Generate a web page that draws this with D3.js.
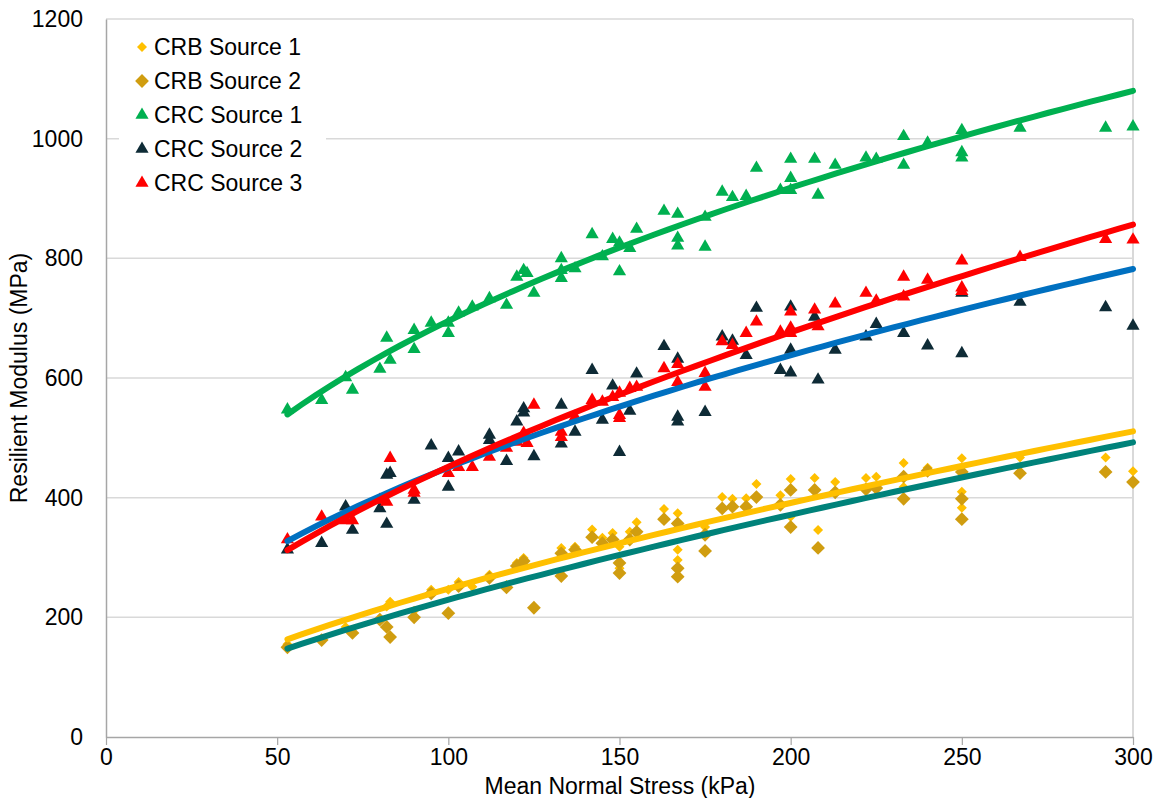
<!DOCTYPE html>
<html>
<head>
<meta charset="utf-8">
<script src="https://cdn.jsdelivr.net/npm/d3@7"></script>
<style>
  body { margin: 0; background: #fff; }
  text { font-family: Arial, "Liberation Sans", sans-serif; fill: #000; }
</style>
</head>
<body>
<svg id="chart" width="1155" height="798"></svg>
<script>
// mean normal stress (kPa) / resilient modulus (MPa)
const crbSource1 = [
  [53,155],[70,184],[80,196],[82,218],[83,226],[90,211],[95,246],[100,246],[103,259],[107,251],
  [112,271],[117,254],[120,291],[122,299],[133,316],[137,318],[142,347],[145,333],[148,341],
  [150,318],[150,282],[153,343],[155,359],[163,381],[167,374],[167,313],[167,296],[175,351],
  [180,401],[183,398],[187,399],[190,423],[197,404],[200,431],[200,368],[207,433],[208,346],
  [213,426],[222,433],[225,435],[233,458],[233,418],[240,450],[250,466],[250,410],[250,383],
  [267,467],[292,467],[300,444]
];
const crbSource2 = [
  [53,150],[63,162],[72,174],[80,196],[82,184],[83,167],[90,200],[95,240],[100,207],[103,252],
  [112,266],[117,250],[120,286],[122,294],[125,216],[133,307],[133,269],[137,313],[142,334],
  [145,324],[148,330],[150,291],[150,274],[153,330],[155,343],[163,364],[167,357],[167,282],
  [167,268],[175,338],[175,311],[180,382],[183,385],[187,385],[190,401],[197,388],[200,413],
  [200,351],[207,413],[208,316],[213,409],[222,414],[225,416],[233,435],[233,398],[240,445],
  [250,443],[250,398],[250,364],[267,441],[292,443],[300,426]
];
const crcSource1 = [
  [53,547],[63,563],[70,601],[72,580],[80,615],[82,667],[83,630],[90,680],[90,648],[95,692],
  [100,675],[100,692],[103,709],[107,719],[112,733],[117,722],[120,769],[122,780],[123,775],
  [125,742],[133,800],[133,780],[133,767],[137,783],[142,840],[145,803],[148,832],[150,826],
  [150,778],[153,817],[155,849],[163,879],[167,874],[167,834],[167,821],[175,869],[175,819],
  [180,911],[183,902],[187,904],[190,951],[197,914],[200,966],[200,934],[200,914],[207,966],
  [208,906],[213,956],[222,968],[225,966],[233,1004],[233,956],[240,993],[250,1014],[250,977],
  [250,968],[267,1018],[292,1018],[300,1020]
];
const crcSource2 = [
  [53,313],[63,324],[70,385],[72,346],[80,382],[82,356],[82,438],[83,441],[90,396],[95,487],
  [100,466],[100,418],[103,477],[112,505],[112,496],[117,461],[120,527],[122,549],[122,542],
  [125,469],[133,555],[133,490],[137,510],[142,613],[145,530],[148,587],[150,476],[153,545],
  [155,607],[163,653],[167,632],[167,535],[167,527],[175,543],[180,669],[183,662],[187,638],
  [190,717],[197,613],[200,719],[200,647],[200,609],[207,702],[208,597],[213,647],[222,669],
  [225,690],[233,675],[240,654],[250,742],[250,641],[267,727],[292,718],[300,687]
];
const crcSource3 = [
  [53,330],[63,368],[70,362],[72,362],[80,396],[82,393],[83,466],[90,413],[90,408],[100,441],
  [103,451],[107,451],[112,468],[117,483],[120,493],[122,508],[123,491],[125,555],[133,510],
  [133,501],[137,535],[142,563],[145,560],[148,568],[150,575],[150,538],[150,533],[153,583],
  [155,585],[163,616],[167,623],[167,593],[175,608],[175,585],[180,661],[183,655],[187,675],
  [190,694],[197,677],[200,711],[200,684],[200,675],[207,714],[208,686],[213,724],[222,742],
  [225,729],[233,769],[233,736],[240,764],[250,796],[250,751],[250,745],[267,802],[292,832],
  [300,831]
];

const seriesNames = ["CRB Source 1", "CRB Source 2", "CRC Source 1", "CRC Source 2", "CRC Source 3"];
const seriesData = [crbSource1, crbSource2, crcSource1, crcSource2, crcSource3];
const markerColors = ["#ffc000", "#d09d10", "#00b050", "#0e2b36", "#ff0000"];
const trendColors = ["#ffc000", "#00827a", "#00b050", "#0070c0", "#ff0000"];
const markerShapes = ["smallDiamond", "diamond", "triangle", "triangle", "triangle"];

const xTicks = [0, 50, 100, 150, 200, 250, 300];
const yTicks = [0, 200, 400, 600, 800, 1000, 1200];

const svg = d3.select("#chart");
const x = d3.scaleLinear().domain([0, 300]).range([106, 1133]);
const y = d3.scaleLinear().domain([0, 1200]).range([737, 19]);

// gridlines
svg.append("g")
  .selectAll("line")
  .data(yTicks.filter(d => d > 0))
  .join("line")
  .attr("x1", x(0)).attr("x2", x(300))
  .attr("y1", d => y(d)).attr("y2", d => y(d))
  .attr("stroke", "#d9d9d9").attr("stroke-width", 1.5);

svg.append("line")
  .attr("x1", x(300)).attr("x2", x(300))
  .attr("y1", y(1200)).attr("y2", y(0))
  .attr("stroke", "#d9d9d9").attr("stroke-width", 2);

// axes
const xAxis = svg.append("g")
  .attr("transform", `translate(0,${y(0)})`)
  .call(d3.axisBottom(x).tickValues(xTicks).tickFormat(d3.format("d")).tickSize(8).tickSizeOuter(0).tickPadding(4));
xAxis.select(".domain").attr("stroke", "#a6a6a6").attr("stroke-width", 1.5);
xAxis.selectAll(".tick line").attr("stroke", "#a6a6a6").attr("stroke-width", 1.2);
xAxis.selectAll(".tick text").attr("font-size", 23).attr("font-family", "Arial, 'Liberation Sans'").attr("fill", "#000");

const yAxis = svg.append("g")
  .attr("transform", `translate(${x(0)},0)`)
  .call(d3.axisLeft(y).tickValues(yTicks).tickFormat(d3.format("d")).tickSize(0).tickPadding(23));
yAxis.select(".domain").attr("stroke", "#a6a6a6").attr("stroke-width", 1.5);
yAxis.selectAll(".tick text").attr("font-size", 23).attr("font-family", "Arial, 'Liberation Sans'").attr("fill", "#000");

// markers
const symbolFor = {
  smallDiamond: d3.symbol().type(d3.symbolSquare).size(50),
  diamond: d3.symbol().type(d3.symbolSquare).size(95),
  triangle: d3.symbol().type(d3.symbolTriangle).size(75)
};

seriesData.forEach((data, i) => {
  const shape = markerShapes[i];
  const rot = shape === "triangle" ? 0 : 45;
  svg.append("g")
    .selectAll("path")
    .data(data)
    .join("path")
    .attr("d", symbolFor[shape]())
    .attr("transform", d => `translate(${x(d[0])},${y(d[1])}) rotate(${rot})`)
    .attr("fill", markerColors[i]);
});

// power trendlines (least squares on ln x / ln y, like Excel)
function powerFit(data) {
  const lx = data.map(d => Math.log(d[0]));
  const ly = data.map(d => Math.log(d[1]));
  const mx = d3.mean(lx), my = d3.mean(ly);
  const b = d3.sum(lx, (v, k) => (v - mx) * (ly[k] - my)) / d3.sum(lx, v => (v - mx) * (v - mx));
  const a = Math.exp(my - b * mx);
  return { a, b };
}

const line = d3.line().x(d => x(d[0])).y(d => y(d[1]));

seriesData.forEach((data, i) => {
  const fit = powerFit(data);
  const [lo, hi] = d3.extent(data, d => d[0]);
  const pts = d3.range(0, 61).map(k => {
    const v = lo + (hi - lo) * k / 60;
    return [v, fit.a * Math.pow(v, fit.b)];
  });
  svg.append("path")
    .datum(pts)
    .attr("d", line)
    .attr("fill", "none")
    .attr("stroke", trendColors[i])
    .attr("stroke-width", 6)
    .attr("stroke-linecap", "round");
});

// axis titles
svg.append("text")
  .attr("x", 620).attr("y", 794)
  .attr("text-anchor", "middle")
  .attr("font-size", 23)
  .text("Mean Normal Stress (kPa)");

svg.append("text")
  .attr("transform", `translate(27,${(y(0) + y(1200)) / 2}) rotate(-90)`)
  .attr("text-anchor", "middle")
  .attr("font-size", 23)
  .text("Resilient Modulus (MPa)");

// legend
const legend = svg.append("g");
legend.append("rect")
  .attr("x", 119).attr("y", 28).attr("width", 207).attr("height", 172)
  .attr("fill", "#fff");

seriesNames.forEach((name, i) => {
  const cy = 47 + i * 34;
  const shape = markerShapes[i];
  const rot = shape === "triangle" ? 0 : 45;
  legend.append("path")
    .attr("d", symbolFor[shape]())
    .attr("transform", `translate(142,${cy}) rotate(${rot})`)
    .attr("fill", markerColors[i]);
  legend.append("text")
    .attr("x", 154).attr("y", cy + 8)
    .attr("font-size", 23)
    .text(name);
});
</script>
</body>
</html>
